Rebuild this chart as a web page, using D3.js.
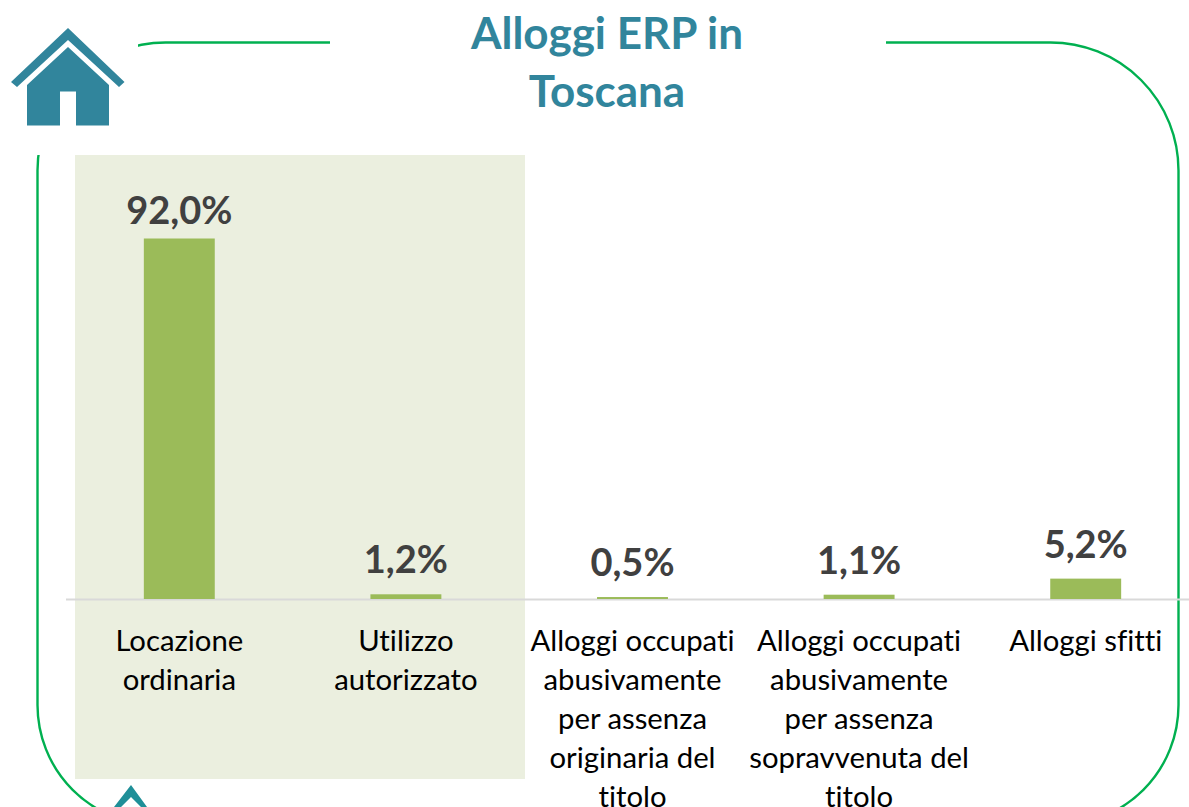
<!DOCTYPE html>
<html><head><meta charset="utf-8">
<script src="https://cdn.jsdelivr.net/npm/d3@7"></script>
<style>html,body{margin:0;padding:0;background:#fff;overflow:hidden}svg{display:block}text{font-family:Lato,"Open Sans",sans-serif;font-variant-ligatures:none}</style>
</head><body><svg id="c" width="1189" height="807"></svg>
<script>
const categories = [
  ["Locazione","ordinaria"],
  ["Utilizzo","autorizzato"],
  ["Alloggi occupati","abusivamente","per assenza","originaria del","titolo"],
  ["Alloggi occupati","abusivamente","per assenza","sopravvenuta del","titolo"],
  ["Alloggi sfitti"]
];
const values = [92.0, 1.2, 0.5, 1.1, 5.2];
const valueLabels = ["92,0%","1,2%","0,5%","1,1%","5,2%"];
const titleLines = ["Alloggi ERP in","Toscana"];

const svg = d3.select("#c");
const x = d3.scaleBand().domain(d3.range(categories.length)).range([66,1199]).paddingInner(0.687).paddingOuter(0.3435);
const y = d3.scaleLinear().domain([0,92]).range([599,238.5]);

// frame
const L=37.5,R=1178.5,T=42.5,B=825,rt=128,rb=120;
const p=d3.path();
p.moveTo(L+rt,T);p.lineTo(R-rt,T);p.arcTo(R,T,R,T+rt,rt);p.lineTo(R,B-rb);p.arcTo(R,B,R-rb,B,rb);
p.lineTo(L+rb,B);p.arcTo(L,B,L,B-rb,rb);p.lineTo(L,T+rt);p.arcTo(L,T,L+rt,T,rt);p.closePath();
svg.append("path").attr("d",p.toString()).attr("fill","none").attr("stroke","#00B050").attr("stroke-width",2.4);
svg.append("rect").attr("x",0).attr("y",0).attr("width",138).attr("height",155).attr("fill","#fff");
svg.append("rect").attr("x",330).attr("y",0).attr("width",556).attr("height",155).attr("fill","#fff");

// highlight band
svg.append("rect").attr("x",75).attr("y",155).attr("width",450).attr("height",624).attr("fill","#EBEFDF");

// house icon
const teal="#31859C";
svg.append("polygon").attr("points","68,28 124.5,82 119,87 68,40 17,87 11,82").attr("fill",teal);
svg.append("polygon").attr("points","68,47 109,85 109,125.5 76,125.5 76,91.5 60,91.5 60,125.5 27,125.5 27,85").attr("fill",teal);
// logo fragment
svg.append("polygon").attr("points","131,785 114,807 121,807 131,797 141,807 147,807").attr("fill","#1F8F98");

// title
svg.append("g").selectAll("text").data(titleLines).join("text")
  .attr("x",607).attr("y",(d,i)=>49+i*58).attr("text-anchor","middle")
  .attr("font-size",44).attr("font-weight",700).attr("fill",teal).text(d=>d);

// axis line
svg.append("line").attr("x1",66).attr("x2",1189).attr("y1",599.5).attr("y2",599.5).attr("stroke","#D9D9D9").attr("stroke-width",2);

// bars
svg.append("g").selectAll("rect").data(values).join("rect")
  .attr("x",(d,i)=>x(i)).attr("width",x.bandwidth())
  .attr("y",d=>y(d)).attr("height",d=>y(0)-y(d)).attr("fill","#9BBB59");

// value labels
svg.append("g").selectAll("text").data(values).join("text")
  .attr("x",(d,i)=>x(i)+x.bandwidth()/2).attr("y",d=>y(d)-(d>50?14.5:21))
  .attr("text-anchor","middle").attr("font-size",38).attr("font-weight",700).attr("fill","#404040")
  .text((d,i)=>valueLabels[i]);

// category labels
const cg=svg.append("g").selectAll("text").data(categories).join("text")
  .attr("text-anchor","middle").attr("font-size",29.3).attr("fill","#000");
cg.selectAll("tspan").data((d,i)=>d.map(t=>({t,i}))).join("tspan")
  .attr("x",d=>x(d.i)+x.bandwidth()/2)
  .attr("y",(d,j)=>651+j*38.9).text(d=>d.t);
</script></body></html>
